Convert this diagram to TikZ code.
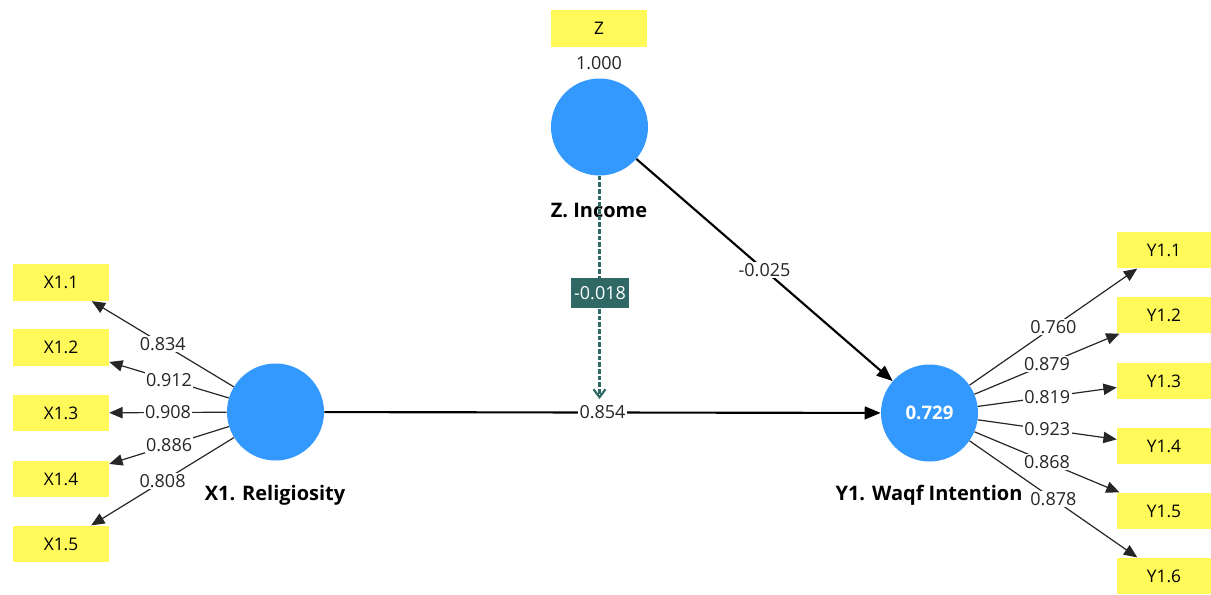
\documentclass[tikz,border=0pt]{standalone}
\usepackage{fontspec}
\setmainfont{Open Sans}
\usetikzlibrary{arrows.meta}
\definecolor{lvblue}{RGB}{51,153,255}
\definecolor{indyel}{RGB}{255,250,90}
\definecolor{modteal}{RGB}{47,104,100}
\tikzset{
  lv/.style={circle,fill=lvblue,minimum size=72.75pt,inner sep=0pt},
  ind/.style={rectangle,fill=indyel,minimum width=72pt,minimum height=27.5pt,inner sep=0pt,font=\fontsize{13}{15}\selectfont},
  lvname/.style={font=\fontsize{15}{17}\selectfont\bfseries},
  load/.style={draw=black!85,line width=0.9pt,-{Triangle[length=10pt,width=8.5pt]}},
  path/.style={draw=black,line width=1.6pt,-{Triangle[length=12pt,width=9.5pt]}},
  coef/.style={fill=white,inner sep=1pt,font=\fontsize{13.5}{15}\selectfont,text=black!85},
}
\begin{document}
\begin{tikzpicture}[x=0.75pt,y=-0.75pt]
\useasboundingbox (0,0) rectangle (1211,594);
% latent variables
\node[lv] (Z) at (599.5,127) {};
\node[lv] (X1) at (275.5,412) {};
\node[lv] (Y1) at (929.5,413) {\textcolor{white}{\fontsize{14}{16}\selectfont\bfseries 0.729}};
\node[lvname] (Zn) at (599,210) {Z. Income};
\node[lvname] (X1n) at (275,495) {X1. Religiosity};
\node[lvname] (Y1n) at (929,495) {Y1. Waqf Intention};
% indicators
\node[ind] (Zi) at (599,28.5) {Z};
\node[coef] (Zl) at (599,63) {1.000};
\node[ind] (x1) at (61,282.5) {X1.1};
\node[ind] (x2) at (61,347.5) {X1.2};
\node[ind] (x3) at (61,413) {X1.3};
\node[ind] (x4) at (61,479) {X1.4};
\node[ind] (x5) at (61,544) {X1.5};
\node[ind,minimum width=70.5pt] (y1) at (1164,250) {Y1.1};
\node[ind,minimum width=70.5pt] (y2) at (1164,315) {Y1.2};
\node[ind,minimum width=70.5pt] (y3) at (1164,381) {Y1.3};
\node[ind,minimum width=70.5pt] (y4) at (1164,446) {Y1.4};
\node[ind,minimum width=70.5pt] (y5) at (1164,511) {Y1.5};
\node[ind,minimum width=70.5pt] (y6) at (1164,576) {Y1.6};
% outer loadings
\draw[load] (X1) -- node[coef] {0.834} (x1);
\draw[load] (X1) -- node[coef] {0.912} (x2);
\draw[load] (X1) -- node[coef] {0.908} (x3);
\draw[load] (X1) -- node[coef] {0.886} (x4);
\draw[load] (X1) -- node[coef] {0.808} (x5);
\draw[load] (Y1) -- node[coef] {0.760} (y1);
\draw[load] (Y1) -- node[coef] {0.879} (y2);
\draw[load] (Y1) -- node[coef] {0.819} (y3);
\draw[load] (Y1) -- node[coef] {0.923} (y4);
\draw[load] (Y1) -- node[coef] {0.868} (y5);
\draw[load] (Y1) -- node[coef] {0.878} (y6);
% structural paths
\draw[path] (X1) -- node[coef] {0.854} (Y1);
\draw[path] (Z) -- node[coef] {-0.025} (Y1);
% moderating effect
\coordinate (mend) at (599.5,399);
\draw[draw=modteal,line width=1.6pt,dash pattern=on 3.5pt off 1.5pt,-{Straight Barb[length=6pt,width=9pt]}] (Z) -- (mend);
\node[fill=modteal,text=white,inner sep=2pt,minimum width=44pt,minimum height=23pt,font=\fontsize{13.5}{15}\selectfont] (mlab) at (600,293) {-0.018};
\end{tikzpicture}
\end{document}
